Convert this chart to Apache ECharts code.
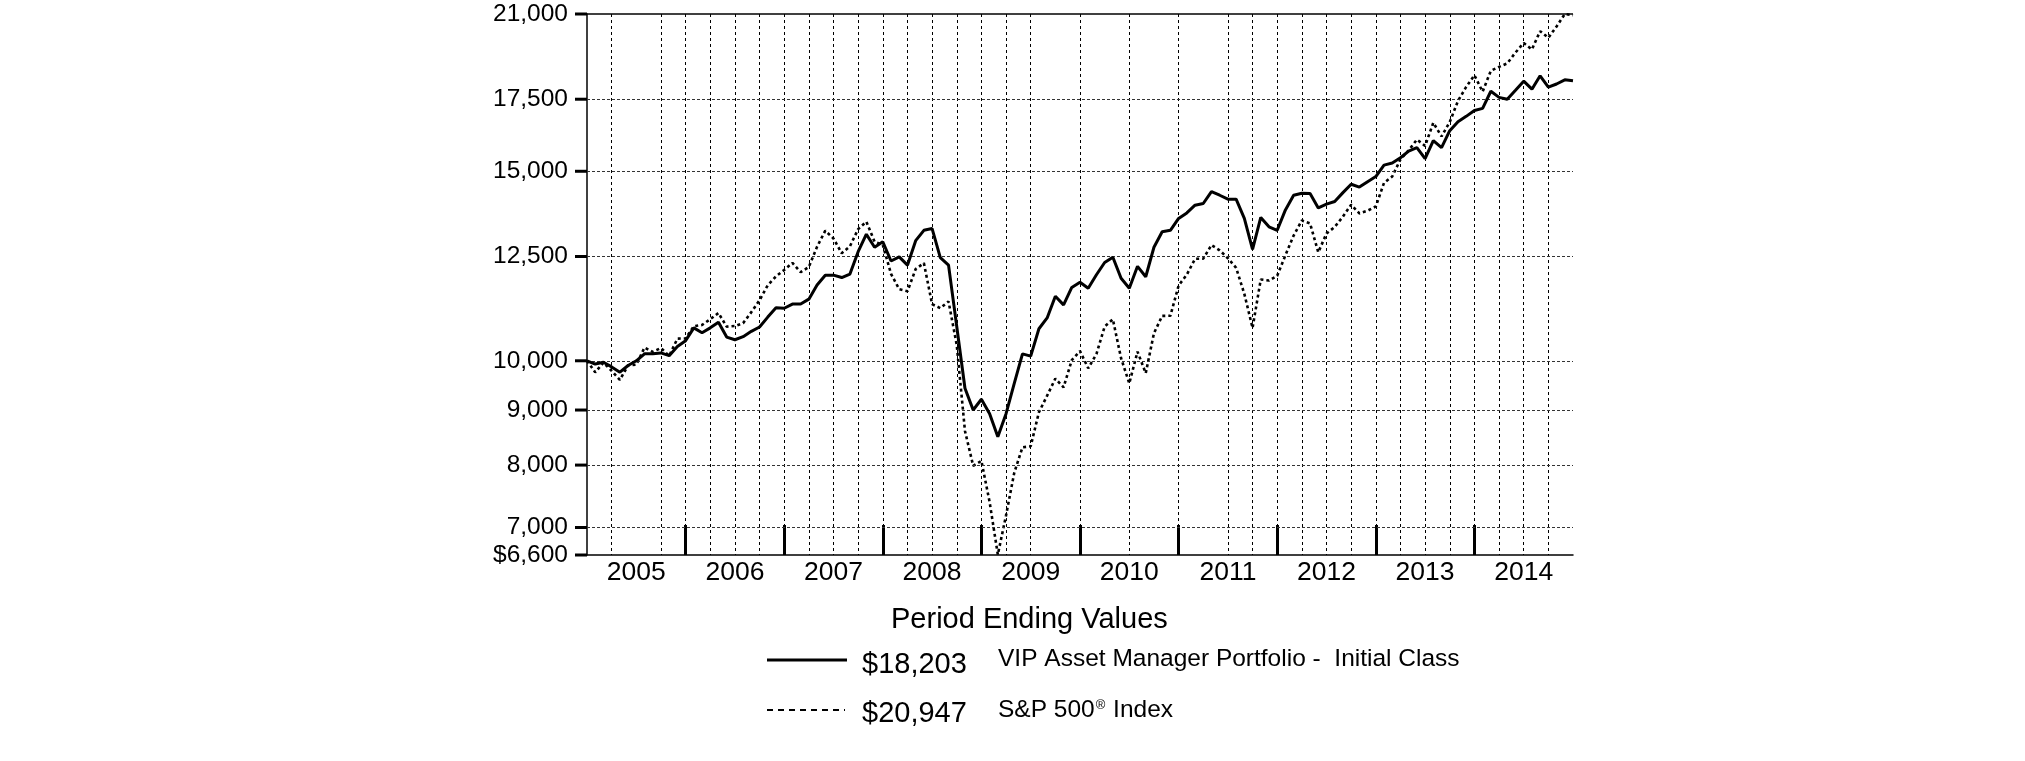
<!DOCTYPE html>
<html>
<head>
<meta charset="utf-8">
<script src="https://cdn.jsdelivr.net/npm/echarts@6/dist/echarts.min.js"></script>
<style>
html,body{margin:0;padding:0;background:#fff;}
#chart{width:2025px;height:761px;}
</style>
</head>
<body>
<div id="chart"></div>
<script>
// ---- data ----
const years = ['2005','2006','2007','2008','2009','2010','2011','2012','2013','2014'];
const monthNames = ['Jan','Feb','Mar','Apr','May','Jun','Jul','Aug','Sep','Oct','Nov','Dec'];
const categories = ['Dec 2004'];
years.forEach(function (y) { monthNames.forEach(function (m) { categories.push(m + ' ' + y); }); });

const fundName = 'VIP Asset Manager Portfolio -  Initial Class';
const fundEnd = '$18,203';
const fundValues = [10000,
  9930, 9970, 9870, 9760, 9900, 10000, 10150, 10150, 10170, 10110, 10310, 10440,
  10730, 10620, 10730, 10860, 10520, 10460, 10530, 10650, 10750, 10980, 11200, 11190,
  11290, 11290, 11410, 11760, 12010, 12010, 11950, 12040, 12630, 13110, 12750, 12900,
  12380, 12490, 12270, 12930, 13220, 13270, 12470, 12270, 10760, 9430, 9000, 9210,
  8930, 8500, 8930, 9530, 10150, 10100, 10710, 10960, 11480, 11270, 11700, 11830,
  11680, 12020, 12340, 12480, 11930, 11680, 12240, 11970, 12750, 13180, 13220, 13560,
  13720, 13950, 14000, 14360, 14250, 14130, 14130, 13560, 12690, 13590, 13320, 13220,
  13810, 14250, 14310, 14300, 13870, 13980, 14060, 14330, 14590, 14500, 14670, 14830,
  15200, 15270, 15440, 15660, 15780, 15410, 16020, 15780, 16360, 16680, 16870, 17080,
  17160, 17800, 17570, 17500, 17840, 18190, 17880, 18400, 17960, 18080, 18240, 18203];

const spName = 'S&P 500® Index';
const spEnd = '$20,947';
const spValues = [10000,
  9756, 9961, 9785, 9599, 9904, 9918, 10287, 10193, 10276, 10104, 10486, 10489,
  10767, 10796, 10930, 11076, 10757, 10772, 10839, 11097, 11383, 11754, 11978, 12145,
  12328, 12087, 12222, 12764, 13209, 12990, 12587, 12776, 13254, 13465, 12902, 12813,
  12044, 11653, 11603, 12168, 12326, 11287, 11192, 11354, 10343, 8606, 7988, 8073,
  7392, 6605, 7184, 7871, 8311, 8328, 8957, 9281, 9627, 9448, 10015, 10208,
  9841, 10146, 10758, 10928, 10055, 9529, 10197, 9737, 10606, 11009, 11010, 11746,
  12024, 12437, 12442, 12810, 12666, 12454, 12201, 11539, 10728, 11900, 11874, 11995,
  12532, 13073, 13503, 13418, 12612, 13131, 13314, 13614, 13965, 13707, 13786, 13912,
  14633, 14832, 15388, 15685, 16052, 15837, 16643, 16160, 16668, 17435, 17967, 18422,
  17785, 18598, 18754, 18893, 19337, 19737, 19465, 20243, 19960, 20447, 20997, 20947];

const yTickValues = [6600, 7000, 8000, 9000, 10000, 12500, 15000, 17500, 21000];
const yTickLabels = ['$6,600', '7,000', '8,000', '9,000', '10,000', '12,500', '15,000', '17,500', '21,000'];
const missingGridMonths = [6, 57, 63, 69, 75];
const legendTitle = 'Period Ending Values';

// ---- chart ----
const FONT = "'Liberation Sans', Arial, sans-serif";
const chart = echarts.init(document.getElementById('chart'), null, {renderer: 'canvas'});

const yMarks = yTickValues.map(function (v, k) {
  const item = {
    yAxis: v,
    label: {formatter: '{t|' + yTickLabels[k] + '}{g|}{k|}'}
  };
  if (v === 21000) item.lineStyle = {type: 'solid', width: 1.5, color: '#000'};
  if (v === 6600) item.lineStyle = {width: 0, color: 'rgba(0,0,0,0)'};
  return item;
});

const option = {
  backgroundColor: '#ffffff',
  animation: false,
  grid: {left: 587, top: 14, width: 986, height: 541, containLabel: false},
  xAxis: {
    type: 'category',
    data: categories,
    boundaryGap: false,
    axisLine: {show: true, lineStyle: {color: '#000', width: 1.5}},
    axisTick: {
      show: true, inside: true, length: 30,
      interval: function (i) { return i % 12 === 0 && i > 0 && i < 120; },
      lineStyle: {color: '#000', width: 3}
    },
    axisLabel: {
      interval: function (i) { return i % 12 === 6; },
      formatter: function (v, i) { return years[(i - 6) / 12]; },
      color: '#000', fontSize: 26.5, fontFamily: FONT, margin: 4
    },
    splitLine: {
      show: true,
      interval: function (i) { return i % 3 === 0 && i > 0 && i < 120 && missingGridMonths.indexOf(i) < 0; },
      lineStyle: {color: '#000', width: 1, type: [3, 3]}
    }
  },
  yAxis: {
    type: 'log', logBase: 10, min: 6600, max: 21000,
    axisLine: {show: true, lineStyle: {color: '#000', width: 1.5}},
    axisTick: {show: false},
    axisLabel: {show: false},
    splitLine: {show: false}
  },
  series: [
    {
      name: fundName, type: 'line', data: fundValues, showSymbol: false, symbol: 'none',
      clip: false, z: 5,
      lineStyle: {color: '#000', width: 3, type: 'solid'},
      markLine: {
        silent: true, symbol: 'none', animation: false,
        lineStyle: {color: '#333', width: 1, type: [3, 2]},
        label: {
          show: true, position: 'start', distance: 0,
          rich: {
            t: {fontSize: 24.5, fontFamily: FONT, color: '#000'},
            g: {width: 7},
            k: {width: 12, height: 3, backgroundColor: '#000'}
          }
        },
        emphasis: {disabled: true},
        data: yMarks
      }
    },
    {
      name: spName, type: 'line', data: spValues, showSymbol: false, symbol: 'none',
      clip: false, z: 4,
      lineStyle: {color: '#000', width: 2.6, type: [3, 3]}
    }
  ],
  graphic: [
    {type: 'text', x: 891, y: 620, style: {text: legendTitle, font: '29px ' + FONT, fill: '#000', align: 'left', verticalAlign: 'middle'}},
    {type: 'line', shape: {x1: 767, y1: 660, x2: 847, y2: 660}, style: {stroke: '#000', lineWidth: 3}},
    {type: 'text', x: 862, y: 665, style: {text: fundEnd, font: '29px ' + FONT, fill: '#000', align: 'left', verticalAlign: 'middle'}},
    {type: 'text', x: 998, y: 659, style: {text: fundName, font: '24.5px ' + FONT, fill: '#000', align: 'left', verticalAlign: 'middle'}},
    {type: 'line', shape: {x1: 767, y1: 710, x2: 845, y2: 710}, style: {stroke: '#000', lineWidth: 2, lineDash: [6, 5]}},
    {type: 'text', x: 862, y: 714, style: {text: spEnd, font: '29px ' + FONT, fill: '#000', align: 'left', verticalAlign: 'middle'}},
    {type: 'text', x: 998, y: 710, style: {
      text: 'S&P 500{r|®} Index', font: '24.5px ' + FONT, fill: '#000', align: 'left', verticalAlign: 'middle',
      rich: {r: {fontSize: 13, fontFamily: FONT, color: '#000', padding: [0, 1, 9, 1]}}
    }}
  ]
};
chart.setOption(option);
</script>
</body>
</html>
